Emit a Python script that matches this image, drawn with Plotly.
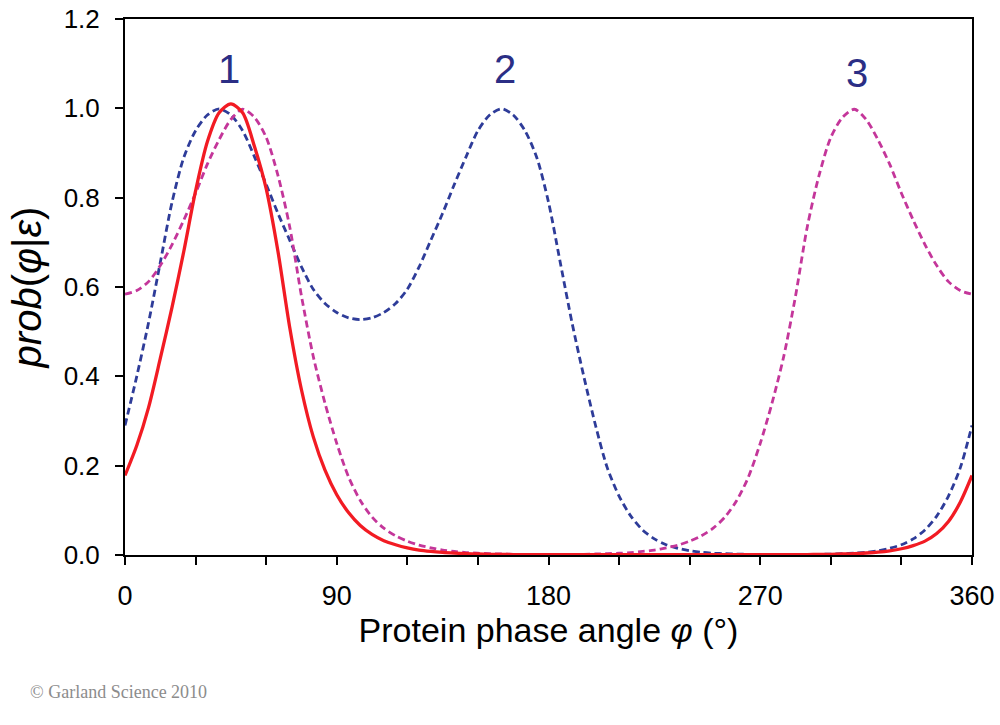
import plotly.graph_objects as go

# Protein phase angle (degrees), sampled every 5 degrees
phase_deg = list(range(0, 365, 5))

# Blue dashed curve (peaks 1 and 2)
blue_vals = [
    0.29, 0.40, 0.52, 0.655, 0.79, 0.89, 0.95, 0.985, 0.999, 0.985,   # 0-45
    0.95, 0.892, 0.83, 0.765, 0.705, 0.645, 0.595, 0.563, 0.543, 0.531,  # 50-95
    0.527, 0.531, 0.543, 0.563, 0.595, 0.645, 0.705, 0.765, 0.83, 0.892,  # 100-145
    0.95, 0.985, 0.999, 0.985, 0.95, 0.89, 0.79, 0.655, 0.52, 0.40,      # 150-195
    0.29, 0.195, 0.132, 0.087, 0.056, 0.036, 0.023, 0.015, 0.0095, 0.006,  # 200-245
    0.004, 0.0028, 0.002, 0.0015, 0.0012, 0.001, 0.001, 0.001, 0.0012, 0.0015,  # 250-295
    0.002, 0.0028, 0.004, 0.006, 0.0095, 0.015, 0.023, 0.036, 0.056, 0.087,  # 300-345
    0.132, 0.195, 0.29,                                                  # 350-360
]

# Magenta dashed curve (peaks 1 and 3)
magenta_vals = [
    0.584, 0.592, 0.612, 0.648, 0.695, 0.75, 0.81, 0.875, 0.93, 0.975,   # 0-45
    0.998, 0.98, 0.935, 0.85, 0.735, 0.58, 0.445, 0.34, 0.25, 0.175,     # 50-95
    0.122, 0.085, 0.06, 0.043, 0.031, 0.022, 0.016, 0.011, 0.008, 0.0055,  # 100-145
    0.004, 0.003, 0.0022, 0.0016, 0.0012, 0.001, 0.001, 0.001, 0.0012, 0.0016,  # 150-195
    0.0022, 0.003, 0.004, 0.0055, 0.008, 0.011, 0.016, 0.022, 0.031, 0.043,  # 200-245
    0.06, 0.085, 0.122, 0.175, 0.25, 0.34, 0.445, 0.58, 0.735, 0.85,     # 250-295
    0.935, 0.98, 0.998, 0.975, 0.93, 0.875, 0.81, 0.75, 0.695, 0.648,    # 300-345
    0.612, 0.592, 0.584,                                                 # 350-360
]

# Red solid curve (combined)
red_vals = [
    0.178, 0.245, 0.33, 0.44, 0.555, 0.68, 0.815, 0.925, 0.99, 1.01,     # 0-45
    0.99, 0.915, 0.82, 0.68, 0.51, 0.37, 0.265, 0.19, 0.135, 0.095,      # 50-95
    0.066, 0.046, 0.032, 0.023, 0.016, 0.011, 0.008, 0.0058, 0.0042, 0.003,  # 100-145
    0.0022, 0.0016, 0.0012, 0.001, 0.001, 0.001, 0.001, 0.001, 0.001, 0.001,  # 150-195
    0.001, 0.001, 0.001, 0.001, 0.001, 0.001, 0.001, 0.001, 0.001, 0.001,  # 200-245
    0.001, 0.001, 0.001, 0.001, 0.001, 0.001, 0.001, 0.001, 0.001, 0.0012,  # 250-295
    0.0016, 0.0022, 0.003, 0.0045, 0.0065, 0.0095, 0.014, 0.021, 0.031, 0.048,  # 300-345
    0.075, 0.118, 0.178,                                                 # 350-360
]

# Peak labels
peak_labels = ["1", "2", "3"]
peak_label_x = [44, 161.5, 311]
peak_label_y = [1.088, 1.088, 1.079]

# Axis ticks
x_tickvals = list(range(0, 361, 30))
x_ticktext = [str(v) if v % 90 == 0 else "" for v in x_tickvals]
y_tickvals = [0.0, 0.2, 0.4, 0.6, 0.8, 1.0, 1.2]
y_ticktext = ["0.0", "0.2", "0.4", "0.6", "0.8", "1.0", "1.2"]

BLUE = "#2E3C99"
MAGENTA = "#C4369A"
RED = "#F21B23"
LABEL_BLUE = "#2B2E85"
FONT = "Liberation Sans, Arial, sans-serif"

fig = go.Figure()
fig.add_trace(go.Scatter(
    x=phase_deg, y=blue_vals, mode="lines",
    line=dict(color=BLUE, width=2.8, dash="7px,4px", shape="spline", smoothing=0.8),
    hoverinfo="skip", showlegend=False))
fig.add_trace(go.Scatter(
    x=phase_deg, y=magenta_vals, mode="lines",
    line=dict(color=MAGENTA, width=2.8, dash="7px,4px", shape="spline", smoothing=0.8),
    hoverinfo="skip", showlegend=False))
fig.add_trace(go.Scatter(
    x=phase_deg, y=red_vals, mode="lines",
    line=dict(color=RED, width=3.3, shape="spline", smoothing=0.8),
    hoverinfo="skip", showlegend=False))

for t, px, py in zip(peak_labels, peak_label_x, peak_label_y):
    fig.add_annotation(x=px, y=py, xref="x", yref="y", text=t, showarrow=False,
                       xanchor="center", yanchor="middle",
                       font=dict(family=FONT, size=40, color=LABEL_BLUE))

fig.add_annotation(x=-0.1145, y=-0.2556, xref="paper", yref="paper",
                   text="© Garland Science 2010", showarrow=False,
                   xanchor="left", yanchor="middle",
                   font=dict(family="Liberation Serif, Times New Roman, serif", size=18, color="#8C8C8C"))

fig.update_layout(
    width=1000, height=725,
    margin=dict(l=125, r=28, t=19, b=170),
    paper_bgcolor="white", plot_bgcolor="white",
    font=dict(family=FONT, color="black"),
    xaxis=dict(
        range=[0, 360], tickmode="array", tickvals=x_tickvals, ticktext=x_ticktext,
        ticks="outside", ticklen=8, tickwidth=2, tickcolor="black",
        showline=True, linewidth=2, linecolor="black", mirror=True,
        showgrid=False, zeroline=False, automargin=False,
        tickfont=dict(size=27, family=FONT, color="black"),
        ticklabelstandoff=8,
        title=dict(text="Protein phase angle <i>φ</i> (°)",
                   font=dict(size=34, family=FONT, color="black"), standoff=8),
    ),
    yaxis=dict(
        range=[0, 1.2], tickmode="array", tickvals=y_tickvals, ticktext=y_ticktext,
        ticks="outside", ticklen=8, tickwidth=2, tickcolor="black",
        showline=True, linewidth=2, linecolor="black", mirror=True,
        showgrid=False, zeroline=False, automargin=False,
        tickfont=dict(size=26, family=FONT, color="black"),
        ticklabelstandoff=10,
        title=dict(text="<i>prob</i>(<i>φ</i>|<i>ε</i>)",
                   font=dict(size=40, family=FONT, color="black"), standoff=10),
    ),
)

fig.write_html("out.html")
